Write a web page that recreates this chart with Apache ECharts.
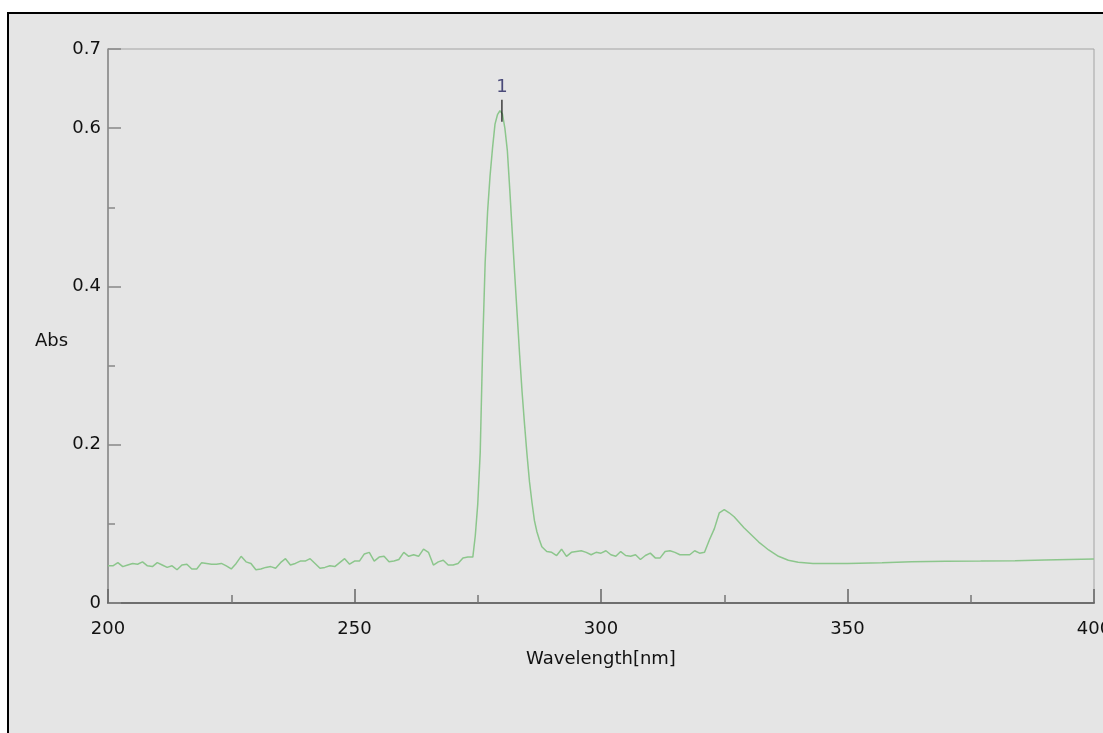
<!DOCTYPE html>
<html>
<head>
<meta charset="utf-8">
<script src="https://cdn.jsdelivr.net/npm/echarts@6/dist/echarts.min.js"></script>
<style>
html, body { margin: 0; padding: 0; background: #fff; overflow: hidden; }
#panel {
    position: absolute; left: 7px; top: 12px; width: 1200px; height: 800px;
    background: #e5e5e5; border-left: 2px solid #000; border-top: 2px solid #000;
}
#echarts { position: absolute; left: 0; top: 0; width: 1103px; height: 733px; }
</style>
</head>
<body>
<div id="panel"></div>
<div id="echarts"></div>
<script>
// spectrum
var wavelength = [
    200, 201, 202, 203, 204, 205, 206, 207, 208, 209,
    210, 211, 212, 213, 214, 215, 216, 217, 218, 219,
    220, 221, 222, 223, 224, 225, 226, 227, 228, 229,
    230, 231, 232, 233, 234, 235, 236, 237, 238, 239,
    240, 241, 242, 243, 244, 245, 246, 247, 248, 249,
    250, 251, 252, 253, 254, 255, 256, 257, 258, 259,
    260, 261, 262, 263, 264, 265, 266, 267, 268, 269,
    270, 271, 272, 273, 274,
    274.5, 275, 275.5, 276, 276.5, 277, 277.5, 278, 278.5, 279, 279.5,
    280, 280.5, 281, 281.5, 282, 282.5, 283, 283.5, 284, 284.5,
    285, 285.5, 286, 286.5, 287, 287.5, 288,
    289, 290, 291, 292, 293, 294, 295, 296, 297, 298, 299,
    300, 301, 302, 303, 304, 305, 306, 307, 308, 309,
    310, 311, 312, 313, 314, 315, 316, 317, 318, 319,
    320, 321, 322, 323, 324, 325, 326, 327, 328, 329,
    330, 331, 332, 333, 334, 335, 336,
    338, 340, 343, 350, 357, 363, 370, 377, 384, 390, 400
];
var absorbance = [
    0.047, 0.047, 0.051, 0.046, 0.048, 0.050, 0.049, 0.052, 0.047, 0.046,
    0.051, 0.048, 0.045, 0.047, 0.042, 0.048, 0.049, 0.043, 0.043, 0.051,
    0.050, 0.049, 0.049, 0.050, 0.047, 0.043, 0.050, 0.059, 0.052, 0.050,
    0.042, 0.043, 0.045, 0.046, 0.044, 0.051, 0.056, 0.048, 0.050, 0.053,
    0.053, 0.056, 0.050, 0.044, 0.045, 0.047, 0.046, 0.051, 0.056, 0.049,
    0.053, 0.053, 0.062, 0.064, 0.053, 0.058, 0.059, 0.052, 0.053, 0.055,
    0.064, 0.059, 0.061, 0.059, 0.068, 0.064, 0.048, 0.052, 0.054, 0.048,
    0.048, 0.050, 0.057, 0.058, 0.058,
    0.085, 0.125, 0.19, 0.325, 0.43, 0.495, 0.54, 0.575, 0.605, 0.617, 0.622,
    0.618, 0.600, 0.572, 0.522, 0.468, 0.415, 0.364, 0.313, 0.266, 0.225,
    0.187, 0.153, 0.127, 0.104, 0.090, 0.080, 0.071,
    0.065, 0.064, 0.060, 0.068, 0.059, 0.064, 0.065, 0.066, 0.064, 0.061, 0.064,
    0.063, 0.066, 0.061, 0.059, 0.065, 0.060, 0.059, 0.061, 0.055, 0.060,
    0.063, 0.057, 0.057, 0.065, 0.066, 0.064, 0.061, 0.061, 0.061, 0.066,
    0.063, 0.064, 0.080, 0.094, 0.114, 0.118, 0.114, 0.109, 0.102, 0.095,
    0.089, 0.083, 0.077, 0.072, 0.067, 0.063, 0.059,
    0.054, 0.0515, 0.050, 0.050, 0.051, 0.052, 0.0527, 0.053, 0.0535, 0.0543, 0.0556
];
// peak marker
var peakX = [279.9];
var peakY = [0.622];
var peakText = ['1'];

var font = 'DejaVu Sans, Verdana, sans-serif';

var myChart = echarts.init(document.getElementById('echarts'));
option = {
    backgroundColor: 'transparent',
    animation: false,
    grid: {
        left: 108, right: 9, top: 49, bottom: 130,
        outerBoundsMode: 'none',
        containLabel: false,
        show: true,
        borderColor: '#a3a3a3',
        borderWidth: 1
    },
    graphic: [{
        type: 'text',
        left: 35,
        top: 332,
        style: { text: 'Abs', fill: '#111', font: '18px ' + font }
    }],
    xAxis: {
        type: 'value',
        min: 200,
        max: 400,
        interval: 50,
        name: 'Wavelength[nm]',
        nameLocation: 'middle',
        nameGap: 47,
        nameTextStyle: { color: '#111', fontSize: 18, fontFamily: font },
        axisLine: { show: true, lineStyle: { color: '#6e6e6e', width: 2 } },
        axisTick: { show: true, inside: true, length: 14, lineStyle: { color: '#666', width: 1.5 } },
        minorTick: { show: true, splitNumber: 2, length: 8, lineStyle: { color: '#777', width: 1.5 } },
        axisLabel: { color: '#111', fontSize: 18, fontFamily: font, margin: 17 },
        splitLine: { show: false }
    },
    yAxis: [{
        type: 'value',
        min: 0,
        max: 0.7,
        interval: 0.2,
        axisLine: { show: true, lineStyle: { color: '#8a8a8a', width: 1.5 } },
        axisTick: { show: true, inside: true, length: 13, lineStyle: { color: '#888', width: 1.5 } },
        axisLabel: { color: '#111', fontSize: 18, fontFamily: font, margin: 7 },
        splitLine: { show: false }
    }, {
        type: 'value',
        position: 'left',
        min: 0,
        max: 0.7,
        interval: 0.1,
        axisLine: { show: false },
        axisTick: { show: true, inside: true, length: 7, lineStyle: { color: '#888', width: 1.5 } },
        axisLabel: { show: false },
        splitLine: { show: false }
    }],
    series: [{
        type: 'line',
        data: wavelength.map(function (w, i) { return [w, absorbance[i]]; }),
        showSymbol: false,
        symbol: 'none',
        lineStyle: { color: '#8cc68c', width: 1.5 },
        z: 3
    }, {
        type: 'scatter',
        data: peakX.map(function (x, i) { return [x, peakY[i]]; }),
        symbol: 'rect',
        symbolSize: [1.5, 22],
        itemStyle: { color: '#111' },
        label: {
            show: true,
            position: 'top',
            distance: 3,
            formatter: function (p) { return peakText[p.dataIndex]; },
            color: '#23235e',
            fontSize: 18,
            fontFamily: font
        },
        z: 4
    }]
};
myChart.setOption(option);
</script>
</body>
</html>
